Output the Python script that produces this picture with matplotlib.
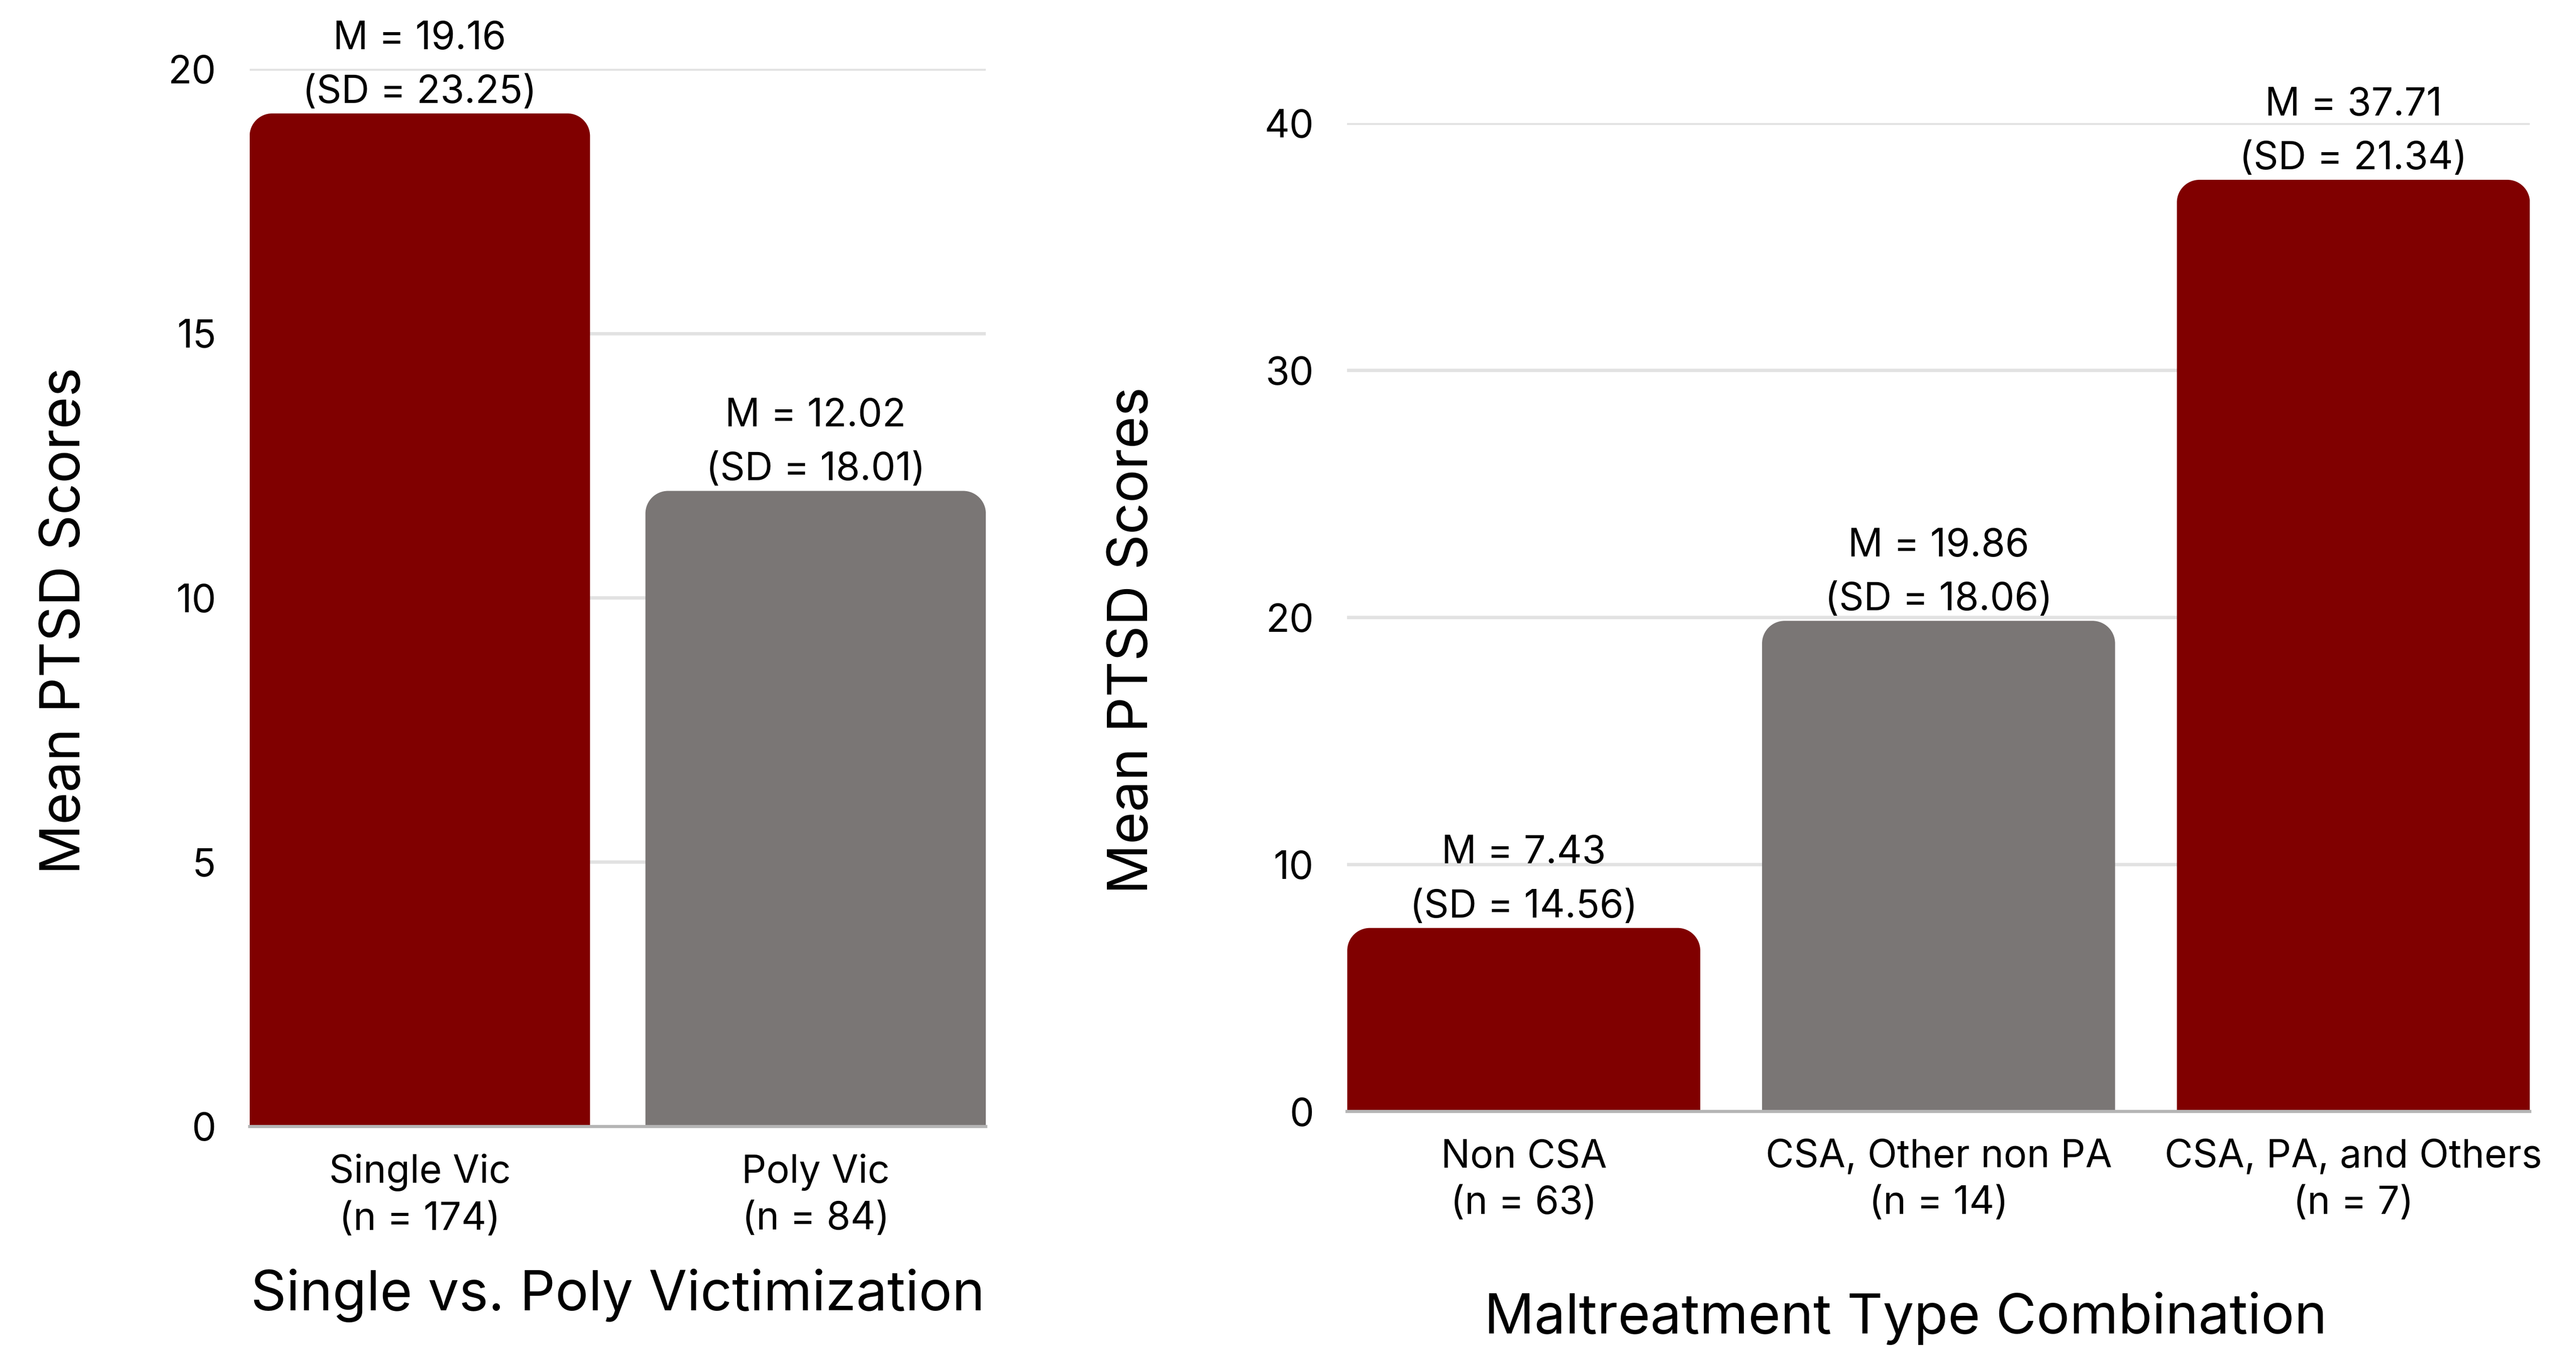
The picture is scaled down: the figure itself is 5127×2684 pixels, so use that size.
import matplotlib
matplotlib.use("Agg")
import matplotlib.pyplot as plt
from matplotlib.path import Path
from matplotlib.patches import PathPatch

plt.rcParams['font.family'] = ['Inter', 'DejaVu Sans']

# left panel
left_cats = ["Single Vic\n(n = 174)", "Poly Vic\n(n = 84)"]
left_means = [19.16, 12.02]
left_sds = [23.25, 18.01]

# right panel
right_cats = ["Non CSA\n(n = 63)", "CSA, Other non PA\n(n = 14)", "CSA, PA, and Others\n(n = 7)"]
right_means = [7.43, 19.86, 37.71]
right_sds = [14.56, 18.06, 21.34]

RED = "#800000"
GREY = "#7a7675"
GRID = "#e2e2e2"

fig = plt.figure(figsize=(5127 / 300, 2684 / 300), dpi=300)


def rounded_top(ax, rect, r_px=45):
    # swap a plain bar for one with rounded upper corners
    x0, y0 = rect.get_x(), rect.get_y()
    x1, y1 = x0 + rect.get_width(), y0 + rect.get_height()
    bb = ax.get_window_extent()
    xl, yl = ax.get_xlim(), ax.get_ylim()
    rx = r_px / bb.width * (xl[1] - xl[0])
    ry = r_px / bb.height * (yl[1] - yl[0])
    ry = min(ry, y1 - y0)
    k = 0.5523
    verts = [(x0, y0), (x0, y1 - ry),
             (x0, y1 - ry + k * ry), (x0 + rx - k * rx, y1), (x0 + rx, y1),
             (x1 - rx, y1),
             (x1 - rx + k * rx, y1), (x1, y1 - ry + k * ry), (x1, y1 - ry),
             (x1, y0), (x0, y0)]
    codes = [Path.MOVETO, Path.LINETO,
             Path.CURVE4, Path.CURVE4, Path.CURVE4,
             Path.LINETO,
             Path.CURVE4, Path.CURVE4, Path.CURVE4,
             Path.LINETO, Path.CLOSEPOLY]
    ax.add_patch(PathPatch(Path(verts, codes), facecolor=rect.get_facecolor(),
                           edgecolor="none", zorder=2))
    rect.set_visible(False)


def panel(pos, cats, means, sds, colors, ymax, yticks, xlabel, width,
          xlab_xy, ylab_xy):
    ax = fig.add_axes(pos)
    x = list(range(len(cats)))
    bars = ax.bar(x, means, width=width, color=colors, zorder=2)
    ax.set_xlim(-width / 2, len(cats) - 1 + width / 2)
    ax.set_ylim(0, ymax)
    ax.set_yticks(yticks)
    ax.set_xticks(x)
    ax.set_xticklabels(cats, fontsize=18.5, linespacing=1.35)
    ax.tick_params(axis="both", length=0, labelsize=18.5)
    ax.tick_params(axis="x", pad=13)
    ax.tick_params(axis="y", pad=16)
    for s in ["top", "right", "left"]:
        ax.spines[s].set_visible(False)
    ax.spines["bottom"].set_color("#b5b5b5")
    ax.spines["bottom"].set_linewidth(1.5)
    ax.spines["bottom"].set_zorder(3)
    ax.yaxis.grid(True, color=GRID, linewidth=1.6, zorder=0)
    ax.set_axisbelow(True)
    for b in bars:
        rounded_top(ax, b)
    for xi, m, sd in zip(x, means, sds):
        ax.annotate(f"M = {m:.2f}\n(SD = {sd:.2f})", (xi, m),
                    xytext=(0, 1.2), textcoords="offset points",
                    ha="center", va="bottom", fontsize=18.5,
                    linespacing=1.6, annotation_clip=False, zorder=4)
    ax.set_xlabel(xlabel, fontsize=26.5)
    ax.xaxis.label.set_va("center")
    ax.xaxis.set_label_coords(*xlab_xy)
    ax.set_ylabel("Mean PTSD Scores", fontsize=26.5)
    ax.yaxis.label.set_va("center")
    ax.yaxis.set_label_coords(*ylab_xy)
    return ax


panel([0.0969, 0.1644, 0.2858, 0.7844], left_cats, left_means, left_sds,
      [RED, GREY], 20, [0, 5, 10, 15, 20], "Single vs. Poly Victimization",
      0.86, (0.5, -0.16), (-0.25, 0.478))

panel([0.5230, 0.1754, 0.4591, 0.7332], right_cats, right_means, right_sds,
      [RED, GREY, RED], 40, [0, 10, 20, 30, 40], "Maltreatment Type Combination",
      0.851, (0.472, -0.209), (-0.181, 0.477))

fig.savefig("out.png", dpi=300, facecolor="white")
